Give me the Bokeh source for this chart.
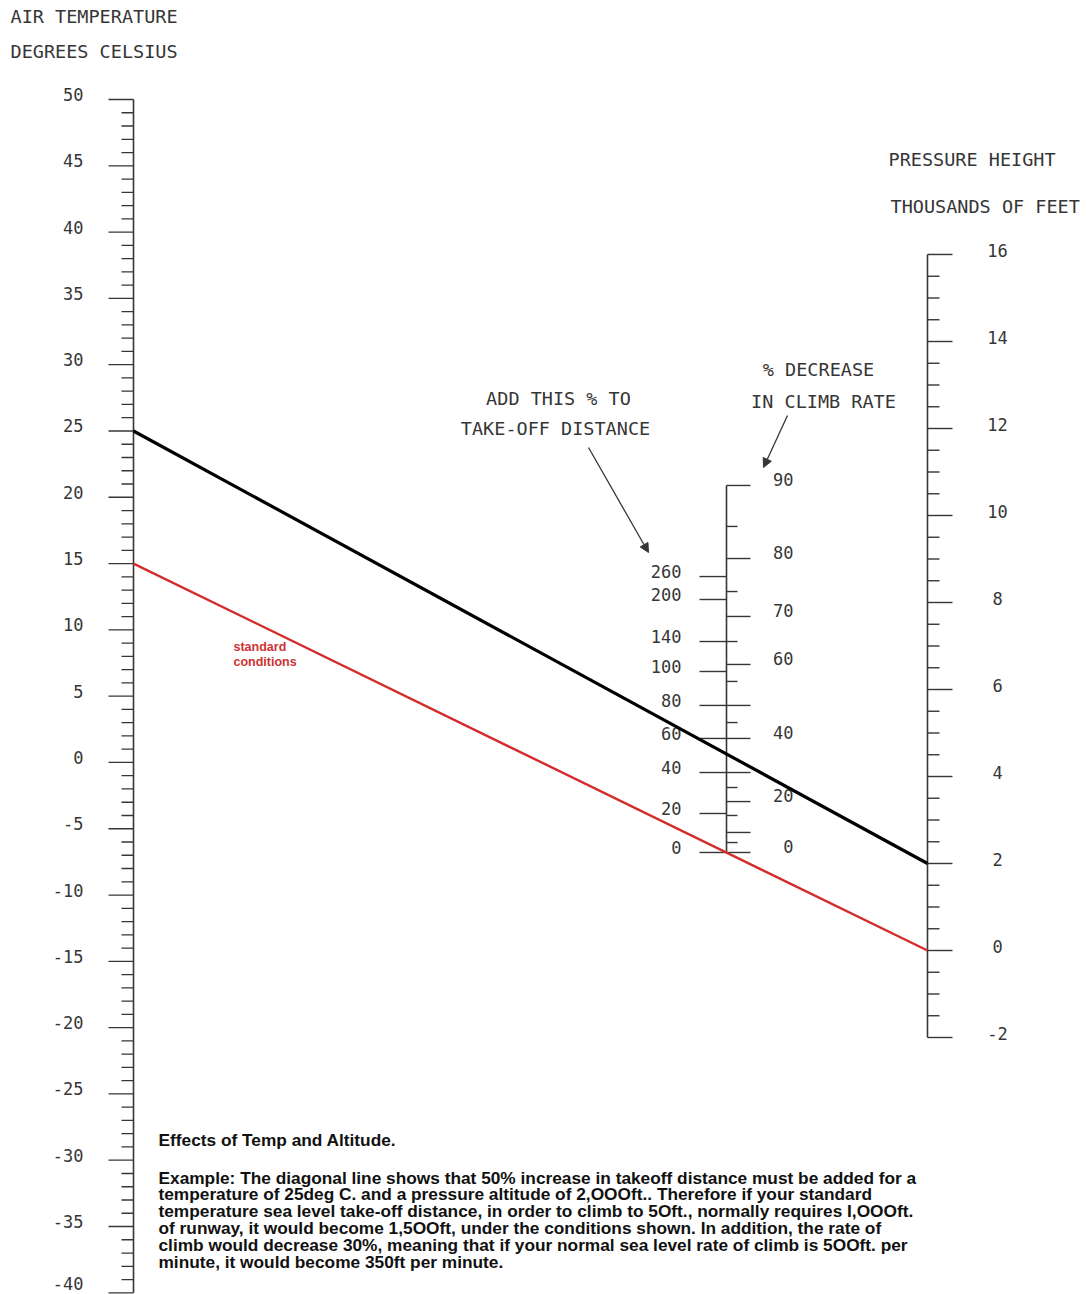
from bokeh.plotting import figure
from bokeh.models import Range1d, Arrow, NormalHead, ColumnDataSource
from bokeh.embed import file_html
from bokeh.resources import INLINE
from bokeh.core.properties import value

# ---------------- data ----------------
# Air temperature scale (deg C): graduations every 1 deg, labels every 5
temp_grad = list(range(-40, 51))
temp_labels = [50, 45, 40, 35, 30, 25, 20, 15, 10, 5, 0, -5, -10, -15, -20, -25, -30, -35, -40]

# Pressure height scale (thousands of feet): graduations every 500 ft, labels every 2000 ft
pres_grad = [-2, -1.5, -1, -0.5, 0, 0.5, 1, 1.5, 2, 2.5, 3, 3.5, 4, 4.5, 5, 5.5, 6, 6.5, 7, 7.5,
             8, 8.5, 9, 9.5, 10, 10.5, 11, 11.5, 12, 12.5, 13, 13.5, 14, 14.5, 15, 15.5, 16]
pres_labels = [16, 14, 12, 10, 8, 6, 4, 2, 0, -2]

# Centre (turning) scale, non-linear: value and its reading on the common vertical
# scale (expressed in deg-C-equivalent units of the temperature scale)
takeoff_values = [0, 20, 40, 60, 80, 100, 140, 200, 260]
takeoff_pos = [-6.79, -3.85, -0.76, 1.81, 4.30, 6.86, 9.12, 12.29, 14.02]

climb_values = [0, 5, 10, 15, 20, 25, 30, 40, 45, 50, 55, 60, 65, 70, 75, 80, 85, 90]
climb_pos = [-6.79, -6.04, -5.28, -4.00, -2.95, -1.89, -0.76, 1.81, 3.01, 4.30, 6.11,
             7.39, 9.12, 11.01, 12.89, 15.38, 17.80, 20.89]
climb_labels = [90, 80, 70, 60, 40, 20, 0]

# Example lines
example_temp, example_alt = 25, 2     # black line
standard_temp, standard_alt = 15, 0   # red line (standard conditions)

# ---------------- layout ----------------
W, H = 1087, 1294
X_TEMP_IMG, X_PRES_IMG = 133, 927        # image x of the outer scales
Y_T50_IMG, PX_PER_DEG = 99, 13.259        # image y of 50 deg C, px per deg
U_MID = (726 - X_TEMP_IMG) / (X_PRES_IMG - X_TEMP_IMG)
PX_PER_U = X_PRES_IMG - X_TEMP_IMG
PRES_ZERO = 50 - (950 - Y_T50_IMG) / PX_PER_DEG   # common-scale position of 0 ft
PRES_STEP = 43.5 / PX_PER_DEG                       # per 1000 ft


def ux(xi):
    return (xi - X_TEMP_IMG) / PX_PER_U


def ty(yi):
    return 50 - (yi - Y_T50_IMG) / PX_PER_DEG


def pres_to_y(p):
    return PRES_ZERO + PRES_STEP * p


def dx(px):
    return px / PX_PER_U


p = figure(width=W, height=H, x_range=Range1d(ux(0), ux(W)),
           y_range=Range1d(ty(H), ty(0)), output_backend="svg",
           toolbar_location=None, x_axis_location=None, y_axis_location=None,
           min_border=0)
p.grid.visible = False
p.outline_line_color = None
p.background_fill_color = "white"

INK = "#363636"
CAD = value("DejaVu Sans Mono")
LW = 1.6

# ---- temperature scale ----
p.segment(x0=[0], y0=[min(temp_grad)], x1=[0], y1=[max(temp_grad)], line_color=INK, line_width=LW)
tx0 = [dx(-25) if t % 5 == 0 else dx(-12) for t in temp_grad]
p.segment(x0=tx0, y0=temp_grad, x1=[0] * len(temp_grad), y1=temp_grad, line_color=INK, line_width=1.3)
# the lowest label sits at the page edge: lift it slightly so it stays whole
t_off = [-9 if v == min(temp_labels) else -5 for v in temp_labels]
tsrc = ColumnDataSource(dict(x=[ux(83)] * len(temp_labels), y=temp_labels,
                             t=[str(v) for v in temp_labels], off=t_off))
p.text(x="x", y="y", text="t", y_offset="off", source=tsrc,
       text_align="right", text_baseline="middle", text_font=CAD,
       text_font_size="17px", text_color=INK)

# ---- pressure scale ----
py = [pres_to_y(v) for v in pres_grad]
p.segment(x0=[1], y0=[min(py)], x1=[1], y1=[max(py)], line_color=INK, line_width=LW)
px1 = [1 + (dx(25) if v % 2 == 0 else dx(12)) for v in pres_grad]
p.segment(x0=[1] * len(py), y0=py, x1=px1, y1=py, line_color=INK, line_width=1.4)
p.text(x=[ux(997)] * len(pres_labels), y=[pres_to_y(v) for v in pres_labels],
       text=[str(v) for v in pres_labels], text_align="center", text_baseline="middle",
       y_offset=-4, text_font=CAD, text_font_size="17px", text_color=INK)

# ---- centre scale ----
p.segment(x0=[U_MID], y0=[min(climb_pos)], x1=[U_MID], y1=[max(climb_pos)], line_color=INK, line_width=LW)
p.segment(x0=[U_MID - dx(27)] * len(takeoff_pos), y0=takeoff_pos, x1=[U_MID] * len(takeoff_pos),
          y1=takeoff_pos, line_color=INK, line_width=1.4)
cx1 = [U_MID + (dx(24) if v % 10 == 0 else dx(11)) for v in climb_values]
p.segment(x0=[U_MID] * len(climb_pos), y0=climb_pos, x1=cx1, y1=climb_pos, line_color=INK, line_width=1.4)
p.text(x=[ux(681)] * len(takeoff_values), y=takeoff_pos, text=[str(v) for v in takeoff_values],
       text_align="right", text_baseline="middle", y_offset=-5, text_font=CAD,
       text_font_size="17px", text_color=INK)
cl_pos = [climb_pos[climb_values.index(v)] for v in climb_labels]
p.text(x=[ux(793)] * len(climb_labels), y=cl_pos, text=[str(v) for v in climb_labels],
       text_align="right", text_baseline="middle", y_offset=-6, text_font=CAD,
       text_font_size="17px", text_color=INK)

# ---- example lines ----
p.line(x=[0, 1], y=[standard_temp, pres_to_y(standard_alt)], line_color="#d42b2b", line_width=2.4)
p.line(x=[0, 1], y=[example_temp, pres_to_y(example_alt)], line_color="black", line_width=3.2)

# ---- headings ----
heads = [("AIR TEMPERATURE", 10, 16, "left"), ("DEGREES CELSIUS", 10, 51, "left"),
         ("PRESSURE HEIGHT", 888, 159, "left"), ("THOUSANDS OF FEET", 890, 206, "left"),
         ("ADD THIS % TO", 558, 398, "center"), ("TAKE-OFF DISTANCE", 555, 428, "center"),
         ("% DECREASE", 818, 369, "center"), ("IN CLIMB RATE", 823, 401, "center")]
for txt, xi, yi, al in heads:
    p.text(x=[ux(xi)], y=[ty(yi)], text=[txt], text_align=al, text_baseline="middle",
           text_font=CAD, text_font_size="18.5px", text_color=INK)

# ---- arrows ----
for (xa, ya, xb, yb) in [(588, 447, 648, 552), (787, 415, 763, 467)]:
    p.add_layout(Arrow(x_start=ux(xa), y_start=ty(ya), x_end=ux(xb), y_end=ty(yb),
                       line_color=INK, line_width=1.3,
                       end=NormalHead(size=9, fill_color=INK, line_color=INK)))

# ---- standard conditions note ----
for txt, yi in [("standard", 646), ("conditions", 661)]:
    p.text(x=[ux(233)], y=[ty(yi)], text=[txt], text_align="left", text_baseline="middle",
           text_font=value("Liberation Sans"), text_font_style="bold",
           text_font_size="12.5px", text_color="#cc3333")

# ---- caption ----
ARIAL = value("Liberation Sans")
p.text(x=[ux(158)], y=[ty(1139)], text=["Effects of Temp and Altitude."], text_align="left",
       text_baseline="middle", text_font=ARIAL, text_font_style="bold",
       text_font_size="17.3px", text_color="#111111")
caption = [
    "Example: The diagonal line shows that 50% increase in takeoff distance must be added for a",
    "temperature of 25deg C. and a pressure altitude of 2,OOOft.. Therefore if your standard",
    "temperature sea level take-off distance, in order to climb to 5Oft., normally requires I,OOOft.",
    "of runway, it would become 1,5OOft, under the conditions shown. In addition, the rate of",
    "climb would decrease 30%, meaning that if your normal sea level rate of climb is 5OOft. per",
    "minute, it would become 350ft per minute.",
]
for i, line in enumerate(caption):
    p.text(x=[ux(158)], y=[ty(1177 + 16.8 * i)], text=[line], text_align="left",
           text_baseline="middle", text_font=ARIAL, text_font_style="bold",
           text_font_size="17.3px", text_color="#111111")

open("out.html", "w").write(file_html(p, INLINE))
